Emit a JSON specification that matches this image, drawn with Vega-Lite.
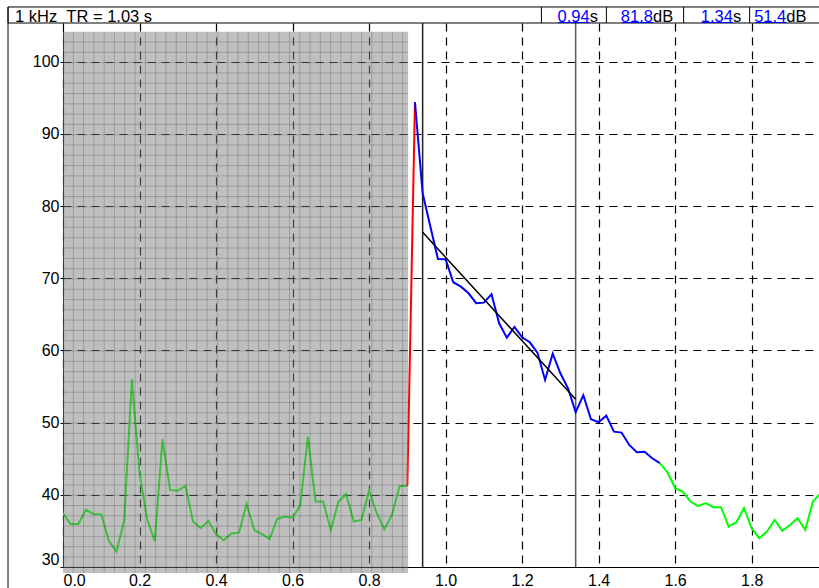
{
  "$schema": "https://vega.github.io/schema/vega-lite/v6.json",
  "width": 756,
  "height": 544,
  "autosize": {"type": "none"},
  "padding": {"left": 63, "top": 23, "right": 0, "bottom": 21},
  "background": "white",
  "config": {
    "font": "Liberation Sans",
    "view": {"stroke": null},
    "axis": {
      "labelFont": "Liberation Sans",
      "labelFontSize": 16,
      "labelColor": "#000",
      "domainColor": "#000",
      "tickColor": "#000",
      "grid": true,
      "gridColor": "#000",
      "gridDash": [8, 6],
      "gridOpacity": 1,
      "gridWidth": 1.2
    }
  },
  "resolve": {"scale": {"color": "independent"}},
  "datasets": {
    "curve": [
      {"t": 0.00, "db": 37.45, "seg": "g1"}, {"t": 0.02, "db": 35.97, "seg": "g1"}, {"t": 0.04, "db": 35.97, "seg": "g1"},
      {"t": 0.06, "db": 37.95, "seg": "g1"}, {"t": 0.08, "db": 37.31, "seg": "g1"}, {"t": 0.10, "db": 37.31, "seg": "g1"},
      {"t": 0.12, "db": 33.61, "seg": "g1"}, {"t": 0.14, "db": 32.13, "seg": "g1"}, {"t": 0.16, "db": 36.52, "seg": "g1"},
      {"t": 0.18, "db": 56.01, "seg": "g1"}, {"t": 0.20, "db": 42.99, "seg": "g1"}, {"t": 0.22, "db": 36.62, "seg": "g1"},
      {"t": 0.24, "db": 33.57, "seg": "g1"}, {"t": 0.26, "db": 47.70, "seg": "g1"}, {"t": 0.28, "db": 40.68, "seg": "g1"},
      {"t": 0.30, "db": 40.58, "seg": "g1"}, {"t": 0.32, "db": 41.23, "seg": "g1"}, {"t": 0.34, "db": 36.29, "seg": "g1"},
      {"t": 0.36, "db": 35.37, "seg": "g1"}, {"t": 0.38, "db": 36.39, "seg": "g1"}, {"t": 0.40, "db": 34.54, "seg": "g1"},
      {"t": 0.42, "db": 33.71, "seg": "g1"}, {"t": 0.44, "db": 34.63, "seg": "g1"}, {"t": 0.46, "db": 34.76, "seg": "g1"},
      {"t": 0.48, "db": 38.74, "seg": "g1"}, {"t": 0.50, "db": 35.10, "seg": "g1"}, {"t": 0.52, "db": 34.54, "seg": "g1"},
      {"t": 0.54, "db": 33.89, "seg": "g1"}, {"t": 0.56, "db": 36.66, "seg": "g1"}, {"t": 0.58, "db": 36.98, "seg": "g1"},
      {"t": 0.60, "db": 36.84, "seg": "g1"}, {"t": 0.62, "db": 38.50, "seg": "g1"}, {"t": 0.64, "db": 48.06, "seg": "g1"},
      {"t": 0.66, "db": 39.06, "seg": "g1"}, {"t": 0.68, "db": 39.06, "seg": "g1"}, {"t": 0.70, "db": 35.10, "seg": "g1"},
      {"t": 0.72, "db": 39.06, "seg": "g1"}, {"t": 0.74, "db": 40.08, "seg": "g1"}, {"t": 0.76, "db": 36.29, "seg": "g1"},
      {"t": 0.78, "db": 36.52, "seg": "g1"}, {"t": 0.80, "db": 40.58, "seg": "g1"}, {"t": 0.82, "db": 37.45, "seg": "g1"},
      {"t": 0.84, "db": 35.24, "seg": "g1"}, {"t": 0.86, "db": 37.26, "seg": "g1"}, {"t": 0.88, "db": 41.23, "seg": "g1"},
      {"t": 0.90, "db": 41.23, "seg": "g1"},
      {"t": 0.90, "db": 41.23, "seg": "r"}, {"t": 0.92, "db": 94.38, "seg": "r"},
      {"t": 0.92, "db": 94.38, "seg": "b"}, {"t": 0.94, "db": 81.77, "seg": "b"}, {"t": 0.96, "db": 77.2, "seg": "b"},
      {"t": 0.98, "db": 72.67, "seg": "b"}, {"t": 1.00, "db": 72.63, "seg": "b"}, {"t": 1.02, "db": 69.45, "seg": "b"},
      {"t": 1.04, "db": 68.84, "seg": "b"}, {"t": 1.06, "db": 67.92, "seg": "b"}, {"t": 1.08, "db": 66.54, "seg": "b"},
      {"t": 1.10, "db": 66.62, "seg": "b"}, {"t": 1.12, "db": 67.78, "seg": "b"}, {"t": 1.14, "db": 63.76, "seg": "b"},
      {"t": 1.16, "db": 61.77, "seg": "b"}, {"t": 1.18, "db": 63.25, "seg": "b"}, {"t": 1.20, "db": 61.82, "seg": "b"},
      {"t": 1.22, "db": 61.13, "seg": "b"}, {"t": 1.24, "db": 59.70, "seg": "b"}, {"t": 1.26, "db": 55.91, "seg": "b"},
      {"t": 1.28, "db": 59.56, "seg": "b"}, {"t": 1.30, "db": 56.84, "seg": "b"}, {"t": 1.32, "db": 54.76, "seg": "b"},
      {"t": 1.34, "db": 51.44, "seg": "b"}, {"t": 1.36, "db": 53.80, "seg": "b"}, {"t": 1.38, "db": 50.47, "seg": "b"},
      {"t": 1.40, "db": 50.06, "seg": "b"}, {"t": 1.42, "db": 50.97, "seg": "b"}, {"t": 1.44, "db": 48.75, "seg": "b"},
      {"t": 1.46, "db": 48.62, "seg": "b"}, {"t": 1.48, "db": 46.91, "seg": "b"}, {"t": 1.50, "db": 45.90, "seg": "b"},
      {"t": 1.52, "db": 45.96, "seg": "b"}, {"t": 1.54, "db": 45.07, "seg": "b"}, {"t": 1.56, "db": 44.38, "seg": "b"},
      {"t": 1.56, "db": 44.38, "seg": "g2"}, {"t": 1.58, "db": 43.13, "seg": "g2"}, {"t": 1.60, "db": 40.91, "seg": "g2"},
      {"t": 1.62, "db": 40.44, "seg": "g2"}, {"t": 1.64, "db": 39.06, "seg": "g2"}, {"t": 1.66, "db": 38.42, "seg": "g2"},
      {"t": 1.68, "db": 38.84, "seg": "g2"}, {"t": 1.70, "db": 38.28, "seg": "g2"}, {"t": 1.72, "db": 38.28, "seg": "g2"},
      {"t": 1.74, "db": 35.60, "seg": "g2"}, {"t": 1.76, "db": 36.20, "seg": "g2"}, {"t": 1.78, "db": 38.14, "seg": "g2"},
      {"t": 1.80, "db": 35.37, "seg": "g2"}, {"t": 1.82, "db": 33.99, "seg": "g2"}, {"t": 1.84, "db": 34.90, "seg": "g2"},
      {"t": 1.86, "db": 36.52, "seg": "g2"}, {"t": 1.88, "db": 35.00, "seg": "g2"}, {"t": 1.90, "db": 35.83, "seg": "g2"},
      {"t": 1.92, "db": 36.76, "seg": "g2"}, {"t": 1.94, "db": 35.14, "seg": "g2"}, {"t": 1.96, "db": 39.06, "seg": "g2"},
      {"t": 1.98, "db": 40.2, "seg": "g2"}
    ],
    "cursors": [{"t": 0.94, "k": "start"}, {"t": 1.34, "k": "end"}],
    "fit": [{"t": 0.94, "db": 76.37, "t2": 1.34, "db2": 53.24}],
    "gray": [{"t": 0, "t2": 0.902, "db": 29.17, "db2": 104.15}],
    "vfine": [
      {"t": 0.0269}, {"t": 0.0538}, {"t": 0.0807}, {"t": 0.1076}, {"t": 0.1345}, {"t": 0.1614}, {"t": 0.1883},
      {"t": 0.2153}, {"t": 0.2422}, {"t": 0.2691}, {"t": 0.2960}, {"t": 0.3229}, {"t": 0.3498}, {"t": 0.3767},
      {"t": 0.4036}, {"t": 0.4305}, {"t": 0.4574}, {"t": 0.4843}, {"t": 0.5112}, {"t": 0.5381}, {"t": 0.5651},
      {"t": 0.5920}, {"t": 0.6189}, {"t": 0.6458}, {"t": 0.6727}, {"t": 0.6996}, {"t": 0.7265}, {"t": 0.7534},
      {"t": 0.7803}, {"t": 0.8072}, {"t": 0.8341}, {"t": 0.8610}, {"t": 0.8879}
    ],
    "hfine": [
      {"db": 102.72}, {"db": 101.30}, {"db": 99.87}, {"db": 98.44}, {"db": 97.02}, {"db": 95.59}, {"db": 94.16},
      {"db": 92.74}, {"db": 91.31}, {"db": 89.88}, {"db": 88.46}, {"db": 87.03}, {"db": 85.60}, {"db": 84.18},
      {"db": 82.75}, {"db": 81.32}, {"db": 79.89}, {"db": 78.47}, {"db": 77.04}, {"db": 75.61}, {"db": 74.19},
      {"db": 72.76}, {"db": 71.33}, {"db": 69.91}, {"db": 68.48}, {"db": 67.05}, {"db": 65.63}, {"db": 64.20},
      {"db": 62.77}, {"db": 61.35}, {"db": 59.92}, {"db": 58.49}, {"db": 57.07}, {"db": 55.64}, {"db": 54.21},
      {"db": 52.79}, {"db": 51.36}, {"db": 49.93}, {"db": 48.51}, {"db": 47.08}, {"db": 45.65}, {"db": 44.23},
      {"db": 42.80}, {"db": 41.37}, {"db": 39.95}, {"db": 38.52}, {"db": 37.09}, {"db": 35.67}, {"db": 34.24},
      {"db": 32.81}, {"db": 31.39}, {"db": 29.96}
    ],
    "header": [{"t": -0.1437, "t2": 2.2, "db": 105.36, "db2": 107.58}],
    "dividers": [{"t": 1.2505}, {"t": 1.4203}, {"t": 1.6222}, {"t": 1.7947}],
    "frame": [{"t": -0.1437, "db": 26.5, "db2": 107.58}],
    "caption": [{"t": -0.1254, "label": "1 kHz\u00a0\u00a0TR = 1.03 s"}],
    "readouts": [
      {"t": 1.3767, "t0": 1.2945, "num": "0.94", "unit": "s"},
      {"t": 1.5421, "t0": 1.4599, "num": "81.8", "unit": "dB"},
      {"t": 1.7511, "t0": 1.6689, "num": "1.34", "unit": "s"},
      {"t": 1.8905, "t0": 1.8083, "num": "51.4", "unit": "dB"}
    ]
  },
  "layer": [
    {
      "data": {"name": "cursors"},
      "mark": {"type": "rule", "strokeWidth": 1.5},
      "encoding": {
        "x": {"field": "t", "type": "quantitative", "title": null, "scale": {"domain": [0, 1.976], "nice": false, "zero": false}},
        "color": {"field": "k", "type": "nominal", "legend": null, "scale": {"domain": ["start", "end"], "range": ["#202020", "#5a5a5a"]}}
      }
    },
    {
      "data": {"name": "curve"},
      "mark": {"type": "line", "strokeWidth": 2, "clip": true},
      "encoding": {
        "x": {
          "field": "t", "type": "quantitative", "title": null,
          "scale": {"domain": [0, 1.976], "nice": false, "zero": false},
          "axis": {"values": [0, 0.2, 0.4, 0.6, 0.8, 1.0, 1.2, 1.4, 1.6, 1.8], "format": ".1f", "tickSize": 0, "labelPadding": 5, "labelFlush": true}
        },
        "y": {
          "field": "db", "type": "quantitative", "title": null,
          "scale": {"domain": [30, 105.36], "nice": false, "zero": false},
          "axis": {"values": [30, 40, 50, 60, 70, 80, 90, 100], "tickSize": 3, "labelPadding": 1, "labelFlush": true}
        },
        "color": {"field": "seg", "type": "nominal", "legend": null, "scale": {"domain": ["g1", "r", "b", "g2"], "range": ["#00ff00", "#ff0000", "#0000ff", "#00ff00"]}}
      }
    },
    {
      "data": {"name": "fit"},
      "mark": {"type": "rule", "strokeWidth": 1.5, "color": "#000"},
      "encoding": {
        "x": {"field": "t", "type": "quantitative", "title": null, "scale": {"domain": [0, 1.976], "nice": false, "zero": false}},
        "x2": {"field": "t2"},
        "y": {"field": "db", "type": "quantitative", "title": null, "scale": {"domain": [30, 105.36], "nice": false, "zero": false}},
        "y2": {"field": "db2"}
      }
    },
    {
      "data": {"name": "gray"},
      "mark": {"type": "rect", "color": "#808080", "opacity": 0.5},
      "encoding": {
        "x": {"field": "t", "type": "quantitative", "title": null, "scale": {"domain": [0, 1.976], "nice": false, "zero": false}},
        "x2": {"field": "t2"},
        "y": {"field": "db", "type": "quantitative", "title": null, "scale": {"domain": [30, 105.36], "nice": false, "zero": false}},
        "y2": {"field": "db2"}
      }
    },
    {
      "data": {"name": "vfine"},
      "mark": {"type": "rule", "color": "#000", "opacity": 0.18, "strokeWidth": 1},
      "encoding": {
        "x": {"field": "t", "type": "quantitative", "title": null, "scale": {"domain": [0, 1.976], "nice": false, "zero": false}},
        "y": {"datum": 29.17, "type": "quantitative", "title": null, "scale": {"domain": [30, 105.36], "nice": false, "zero": false}},
        "y2": {"datum": 104.15}
      }
    },
    {
      "data": {"name": "hfine"},
      "mark": {"type": "rule", "color": "#000", "opacity": 0.18, "strokeWidth": 1},
      "encoding": {
        "y": {"field": "db", "type": "quantitative", "title": null, "scale": {"domain": [30, 105.36], "nice": false, "zero": false}},
        "x": {"datum": 0, "type": "quantitative", "title": null, "scale": {"domain": [0, 1.976], "nice": false, "zero": false}},
        "x2": {"datum": 0.902}
      }
    },
    {
      "data": {"name": "header"},
      "mark": {"type": "rect", "fill": "#fff", "stroke": "#000", "strokeWidth": 1},
      "encoding": {
        "x": {"field": "t", "type": "quantitative", "title": null, "scale": {"domain": [0, 1.976], "nice": false, "zero": false}},
        "x2": {"field": "t2"},
        "y": {"field": "db", "type": "quantitative", "title": null, "scale": {"domain": [30, 105.36], "nice": false, "zero": false}},
        "y2": {"field": "db2"}
      }
    },
    {
      "data": {"name": "dividers"},
      "mark": {"type": "rule", "color": "#000", "strokeWidth": 1},
      "encoding": {
        "x": {"field": "t", "type": "quantitative", "title": null, "scale": {"domain": [0, 1.976], "nice": false, "zero": false}},
        "y": {"datum": 105.36, "type": "quantitative", "title": null, "scale": {"domain": [30, 105.36], "nice": false, "zero": false}},
        "y2": {"datum": 107.58}
      }
    },
    {
      "data": {"name": "frame"},
      "mark": {"type": "rule", "color": "#000", "strokeWidth": 1},
      "encoding": {
        "x": {"field": "t", "type": "quantitative", "title": null, "scale": {"domain": [0, 1.976], "nice": false, "zero": false}},
        "y": {"field": "db", "type": "quantitative", "title": null, "scale": {"domain": [30, 105.36], "nice": false, "zero": false}},
        "y2": {"field": "db2"}
      }
    },
    {
      "data": {"name": "caption"},
      "mark": {"type": "text", "align": "left", "baseline": "alphabetic", "fontSize": 16.5, "font": "Liberation Sans", "color": "#000"},
      "encoding": {
        "x": {"field": "t", "type": "quantitative", "title": null, "scale": {"domain": [0, 1.976], "nice": false, "zero": false}},
        "y": {"datum": 105.5, "type": "quantitative", "title": null, "scale": {"domain": [30, 105.36], "nice": false, "zero": false}},
        "text": {"field": "label"}
      }
    },
    {
      "data": {"name": "readouts"},
      "mark": {"type": "text", "align": "right", "baseline": "alphabetic", "fontSize": 16.5, "font": "Liberation Sans", "color": "#0000ff"},
      "encoding": {
        "x": {"field": "t", "type": "quantitative", "title": null, "scale": {"domain": [0, 1.976], "nice": false, "zero": false}},
        "y": {"datum": 105.5, "type": "quantitative", "title": null, "scale": {"domain": [30, 105.36], "nice": false, "zero": false}},
        "text": {"field": "num"}
      }
    },
    {
      "data": {"name": "readouts"},
      "mark": {"type": "text", "align": "left", "baseline": "alphabetic", "fontSize": 16.5, "font": "Liberation Sans", "color": "#000"},
      "encoding": {
        "x": {"field": "t", "type": "quantitative", "title": null, "scale": {"domain": [0, 1.976], "nice": false, "zero": false}},
        "y": {"datum": 105.5, "type": "quantitative", "title": null, "scale": {"domain": [30, 105.36], "nice": false, "zero": false}},
        "text": {"field": "unit"}
      }
    },
    {
      "data": {"name": "readouts"},
      "mark": {"type": "rule", "color": "#0000ff", "strokeWidth": 1},
      "encoding": {
        "x": {"field": "t0", "type": "quantitative", "title": null, "scale": {"domain": [0, 1.976], "nice": false, "zero": false}},
        "x2": {"field": "t"},
        "y": {"datum": 105.43, "type": "quantitative", "title": null, "scale": {"domain": [30, 105.36], "nice": false, "zero": false}}
      }
    }
  ]
}
